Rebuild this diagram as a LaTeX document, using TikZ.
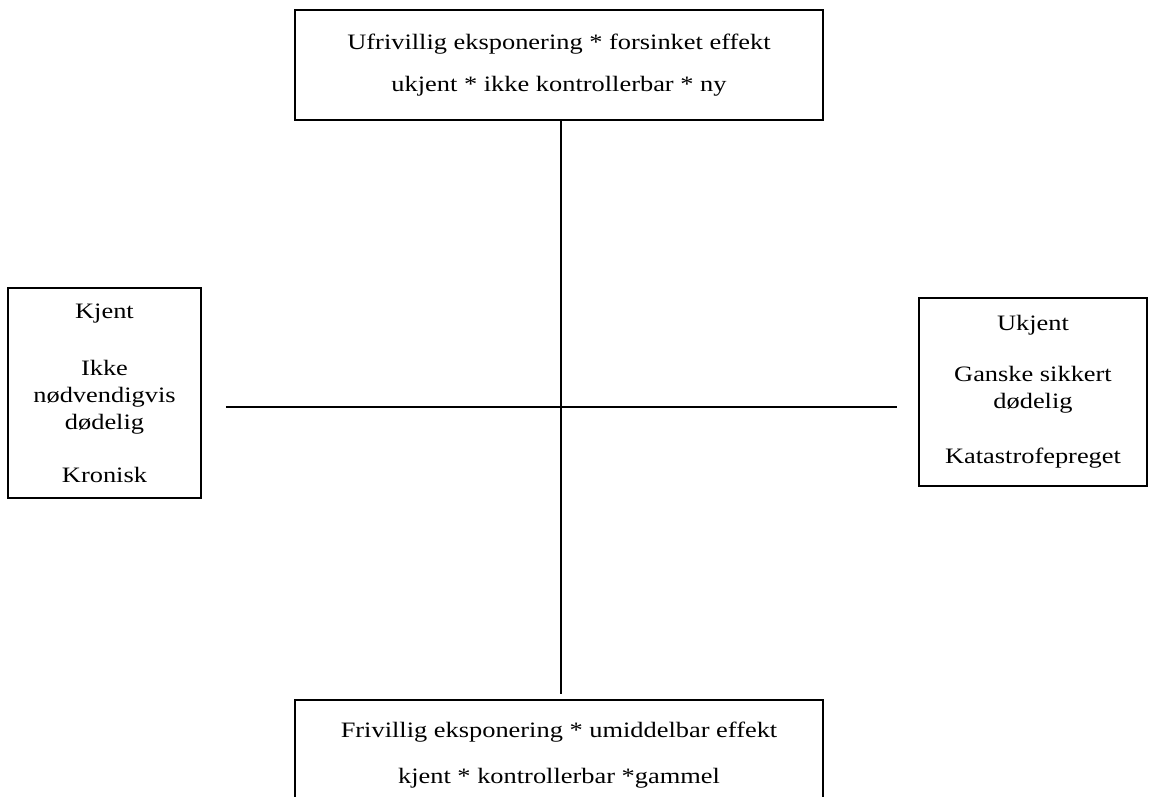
\documentclass[tikz,border=0pt]{standalone}
\usepackage{fontspec}
\setmainfont[FakeStretch=1.2]{Liberation Serif}
\begin{document}
\begin{tikzpicture}[x=1pt,y=-1pt]
	\tikzstyle{box} = [rectangle, draw=black, line width=1.5pt, text centered, align=center, inner sep=0pt, font=\fontsize{22}{27}\selectfont]
	\tikzstyle{axis} = [line width=1.5pt]
	\useasboundingbox (0,0) rectangle (1151,796);
	\node (involuntary) [box, minimum width=528pt, minimum height=110pt] at (559,65) {Ufrivillig eksponering * forsinket effekt\\[15pt]ukjent * ikke kontrollerbar * ny};
	\node (voluntary) [box, minimum width=528pt, minimum height=110pt] at (559,755) {Frivillig eksponering * umiddelbar effekt\\[19pt]kjent * kontrollerbar *gammel};
	\node (known) [box, minimum width=193pt, minimum height=210pt] at (104.5,393) {Kjent\\[30pt]Ikke\\nødvendigvis\\dødelig\\[26pt]Kronisk};
	\node (unknown) [box, minimum width=228pt, minimum height=188pt] at (1033,392) {Ukjent\\[24pt]Ganske sikkert\\dødelig\\[28pt]Katastrofepreget};
	\coordinate (centre) at (561,407);
	\draw [axis, shorten >=5pt] (involuntary.south -| centre) -- (voluntary.north -| centre);
	\draw [axis, shorten <=24pt, shorten >=21pt] (known.east |- centre) -- (unknown.west |- centre);
\end{tikzpicture}
\end{document}
